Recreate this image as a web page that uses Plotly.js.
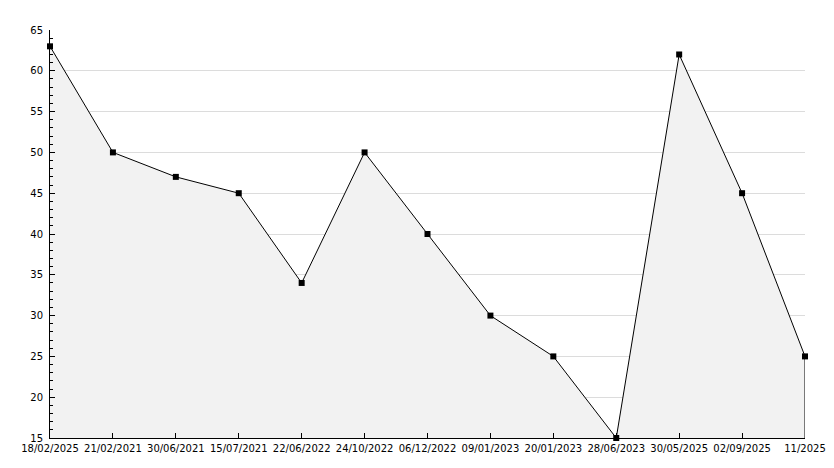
<!DOCTYPE html>
<html>
<head>
<meta charset="utf-8">
<script src="https://cdn.plot.ly/plotly-3.0.1.min.js"></script>
<style>html,body{margin:0;padding:0;background:#fff;}#chart{width:834px;height:468px;}</style>
</head>
<body>
<div id="chart"></div>
<script>
const categories = ["18/02/2025","21/02/2021","30/06/2021","15/07/2021","22/06/2022","24/10/2022","06/12/2022","09/01/2023","20/01/2023","28/06/2023","30/05/2025","02/09/2025","11/2025"];
const values = [63, 50, 47, 45, 34, 50, 40, 30, 25, 15, 62, 45, 25];
const yMin = 15, yMax = 65;

const last = categories.length - 1;
const traces = [
  {
    x: categories, y: values, type: 'scatter', mode: 'lines+markers',
    fill: 'tozeroy', fillcolor: '#f2f2f2',
    line: {color: '#000', width: 1},
    marker: {symbol: 'square', size: 6, color: '#000'},
    cliponaxis: false, hoverinfo: 'none'
  },
  {
    x: [categories[last], categories[last]], y: [values[last], yMin],
    type: 'scatter', mode: 'lines', line: {color: '#000', width: 1},
    hoverinfo: 'none', cliponaxis: false
  }
];

const layout = {
  width: 834, height: 468,
  margin: {l: 50, r: 29, t: 30, b: 30},
  paper_bgcolor: '#fff', plot_bgcolor: '#fff',
  showlegend: false,
  font: {family: 'DejaVu Sans', size: 10, color: '#000'},
  xaxis: {
    type: 'category', range: [0, last],
    showgrid: false, zeroline: false,
    showline: true, linecolor: '#000', linewidth: 1,
    ticks: 'inside', ticklen: 5, tickcolor: '#000',
    tickangle: 0, automargin: false, ticklabelstandoff: 1,
    tickfont: {family: 'DejaVu Sans', size: 10, color: '#000'}
  },
  yaxis: {
    range: [yMin, yMax], dtick: 5, tick0: 0,
    showgrid: true, gridcolor: '#dcdcdc', gridwidth: 1,
    zeroline: false,
    showline: true, linecolor: '#000', linewidth: 1,
    ticks: 'inside', ticklen: 5, tickcolor: '#000',
    minor: {ticks: 'inside', dtick: 1, ticklen: 3, tickcolor: '#000', showgrid: false},
    automargin: false, ticklabelstandoff: 4,
    tickfont: {family: 'DejaVu Sans', size: 10, color: '#000'}
  }
};

Plotly.newPlot('chart', traces, layout, {staticPlot: true, displayModeBar: false});
</script>
</body>
</html>
